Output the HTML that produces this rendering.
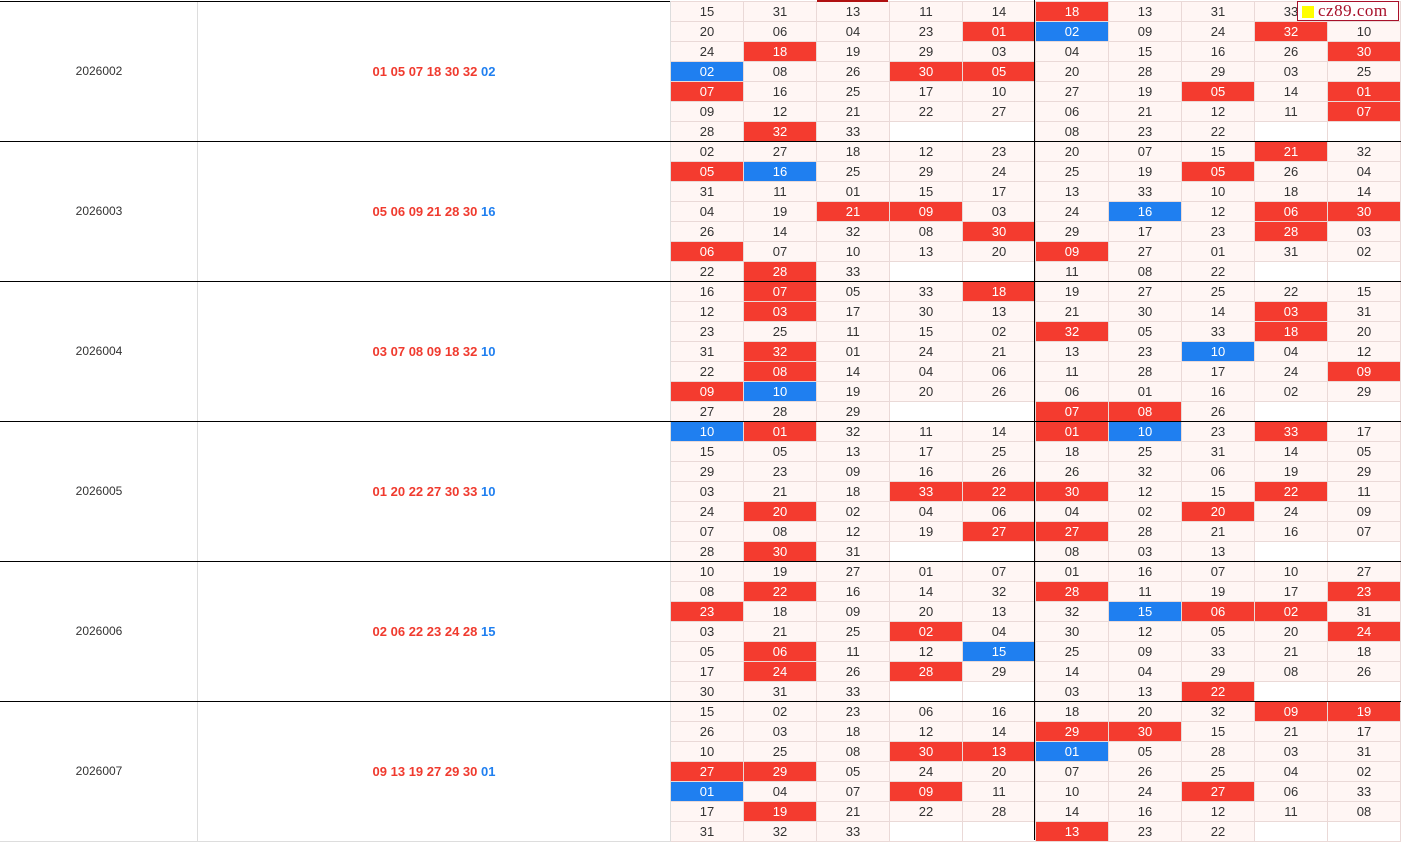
<!DOCTYPE html>
<html><head><meta charset="utf-8"><style>
html,body{margin:0;padding:0;width:1401px;height:840px;overflow:hidden;background:#fff;font-family:"Liberation Sans",Arial,sans-serif;}
table{position:absolute;left:0;top:1px;border-collapse:collapse;table-layout:fixed;width:1400px;}
td{height:19px;padding:0;border:1px solid #ead9d7;background:#fff6f4;text-align:center;font-size:13px;color:#333;line-height:19px;overflow:hidden;white-space:nowrap}
td.i{background:#fff;border-color:#ddd;font-size:12px;border-left-color:#fff}
td.n{background:#fff;border-color:#ddd;font-size:13px;font-weight:bold;color:#f03a2e;}
td.n span{color:#1f7ff0}
td.r{background:#f43b2f;color:#fff}
td.b{background:#1f7ff0;color:#fff}
td.e{background:#fff}
.h{position:absolute;left:0;width:1401px;height:1px;background:#000}
.v{position:absolute;left:1034px;top:0;width:1px;height:840px;background:#000}
#wm{position:absolute;left:1297px;top:1px;width:102px;height:20px;background:#fff;border:1px solid #a8102a;box-sizing:border-box;font-family:"Liberation Serif",serif;font-size:17px;color:#a8102a;line-height:18px;padding-left:20px;letter-spacing:0.5px}
#wm i{position:absolute;left:4px;top:4px;width:12px;height:12px;background:#ffff00}
#top{position:absolute;left:817px;top:0;width:71px;height:2px;background:#b01010}
</style></head><body>
<table>
<colgroup><col style="width:197px"><col style="width:473px"><col span="10" style="width:73px"></colgroup>
<tr><td class="i" rowspan="7">2026002</td><td class="n" rowspan="7">01 05 07 18 30 32 <span>02</span></td><td>15</td><td>31</td><td>13</td><td>11</td><td>14</td><td class="r">18</td><td>13</td><td>31</td><td>33</td><td></td></tr>
<tr><td>20</td><td>06</td><td>04</td><td>23</td><td class="r">01</td><td class="b">02</td><td>09</td><td>24</td><td class="r">32</td><td>10</td></tr>
<tr><td>24</td><td class="r">18</td><td>19</td><td>29</td><td>03</td><td>04</td><td>15</td><td>16</td><td>26</td><td class="r">30</td></tr>
<tr><td class="b">02</td><td>08</td><td>26</td><td class="r">30</td><td class="r">05</td><td>20</td><td>28</td><td>29</td><td>03</td><td>25</td></tr>
<tr><td class="r">07</td><td>16</td><td>25</td><td>17</td><td>10</td><td>27</td><td>19</td><td class="r">05</td><td>14</td><td class="r">01</td></tr>
<tr><td>09</td><td>12</td><td>21</td><td>22</td><td>27</td><td>06</td><td>21</td><td>12</td><td>11</td><td class="r">07</td></tr>
<tr><td>28</td><td class="r">32</td><td>33</td><td class="e"></td><td class="e"></td><td>08</td><td>23</td><td>22</td><td class="e"></td><td class="e"></td></tr>

<tr><td class="i" rowspan="7">2026003</td><td class="n" rowspan="7">05 06 09 21 28 30 <span>16</span></td><td>02</td><td>27</td><td>18</td><td>12</td><td>23</td><td>20</td><td>07</td><td>15</td><td class="r">21</td><td>32</td></tr>
<tr><td class="r">05</td><td class="b">16</td><td>25</td><td>29</td><td>24</td><td>25</td><td>19</td><td class="r">05</td><td>26</td><td>04</td></tr>
<tr><td>31</td><td>11</td><td>01</td><td>15</td><td>17</td><td>13</td><td>33</td><td>10</td><td>18</td><td>14</td></tr>
<tr><td>04</td><td>19</td><td class="r">21</td><td class="r">09</td><td>03</td><td>24</td><td class="b">16</td><td>12</td><td class="r">06</td><td class="r">30</td></tr>
<tr><td>26</td><td>14</td><td>32</td><td>08</td><td class="r">30</td><td>29</td><td>17</td><td>23</td><td class="r">28</td><td>03</td></tr>
<tr><td class="r">06</td><td>07</td><td>10</td><td>13</td><td>20</td><td class="r">09</td><td>27</td><td>01</td><td>31</td><td>02</td></tr>
<tr><td>22</td><td class="r">28</td><td>33</td><td class="e"></td><td class="e"></td><td>11</td><td>08</td><td>22</td><td class="e"></td><td class="e"></td></tr>

<tr><td class="i" rowspan="7">2026004</td><td class="n" rowspan="7">03 07 08 09 18 32 <span>10</span></td><td>16</td><td class="r">07</td><td>05</td><td>33</td><td class="r">18</td><td>19</td><td>27</td><td>25</td><td>22</td><td>15</td></tr>
<tr><td>12</td><td class="r">03</td><td>17</td><td>30</td><td>13</td><td>21</td><td>30</td><td>14</td><td class="r">03</td><td>31</td></tr>
<tr><td>23</td><td>25</td><td>11</td><td>15</td><td>02</td><td class="r">32</td><td>05</td><td>33</td><td class="r">18</td><td>20</td></tr>
<tr><td>31</td><td class="r">32</td><td>01</td><td>24</td><td>21</td><td>13</td><td>23</td><td class="b">10</td><td>04</td><td>12</td></tr>
<tr><td>22</td><td class="r">08</td><td>14</td><td>04</td><td>06</td><td>11</td><td>28</td><td>17</td><td>24</td><td class="r">09</td></tr>
<tr><td class="r">09</td><td class="b">10</td><td>19</td><td>20</td><td>26</td><td>06</td><td>01</td><td>16</td><td>02</td><td>29</td></tr>
<tr><td>27</td><td>28</td><td>29</td><td class="e"></td><td class="e"></td><td class="r">07</td><td class="r">08</td><td>26</td><td class="e"></td><td class="e"></td></tr>

<tr><td class="i" rowspan="7">2026005</td><td class="n" rowspan="7">01 20 22 27 30 33 <span>10</span></td><td class="b">10</td><td class="r">01</td><td>32</td><td>11</td><td>14</td><td class="r">01</td><td class="b">10</td><td>23</td><td class="r">33</td><td>17</td></tr>
<tr><td>15</td><td>05</td><td>13</td><td>17</td><td>25</td><td>18</td><td>25</td><td>31</td><td>14</td><td>05</td></tr>
<tr><td>29</td><td>23</td><td>09</td><td>16</td><td>26</td><td>26</td><td>32</td><td>06</td><td>19</td><td>29</td></tr>
<tr><td>03</td><td>21</td><td>18</td><td class="r">33</td><td class="r">22</td><td class="r">30</td><td>12</td><td>15</td><td class="r">22</td><td>11</td></tr>
<tr><td>24</td><td class="r">20</td><td>02</td><td>04</td><td>06</td><td>04</td><td>02</td><td class="r">20</td><td>24</td><td>09</td></tr>
<tr><td>07</td><td>08</td><td>12</td><td>19</td><td class="r">27</td><td class="r">27</td><td>28</td><td>21</td><td>16</td><td>07</td></tr>
<tr><td>28</td><td class="r">30</td><td>31</td><td class="e"></td><td class="e"></td><td>08</td><td>03</td><td>13</td><td class="e"></td><td class="e"></td></tr>

<tr><td class="i" rowspan="7">2026006</td><td class="n" rowspan="7">02 06 22 23 24 28 <span>15</span></td><td>10</td><td>19</td><td>27</td><td>01</td><td>07</td><td>01</td><td>16</td><td>07</td><td>10</td><td>27</td></tr>
<tr><td>08</td><td class="r">22</td><td>16</td><td>14</td><td>32</td><td class="r">28</td><td>11</td><td>19</td><td>17</td><td class="r">23</td></tr>
<tr><td class="r">23</td><td>18</td><td>09</td><td>20</td><td>13</td><td>32</td><td class="b">15</td><td class="r">06</td><td class="r">02</td><td>31</td></tr>
<tr><td>03</td><td>21</td><td>25</td><td class="r">02</td><td>04</td><td>30</td><td>12</td><td>05</td><td>20</td><td class="r">24</td></tr>
<tr><td>05</td><td class="r">06</td><td>11</td><td>12</td><td class="b">15</td><td>25</td><td>09</td><td>33</td><td>21</td><td>18</td></tr>
<tr><td>17</td><td class="r">24</td><td>26</td><td class="r">28</td><td>29</td><td>14</td><td>04</td><td>29</td><td>08</td><td>26</td></tr>
<tr><td>30</td><td>31</td><td>33</td><td class="e"></td><td class="e"></td><td>03</td><td>13</td><td class="r">22</td><td class="e"></td><td class="e"></td></tr>

<tr><td class="i" rowspan="7">2026007</td><td class="n" rowspan="7">09 13 19 27 29 30 <span>01</span></td><td>15</td><td>02</td><td>23</td><td>06</td><td>16</td><td>18</td><td>20</td><td>32</td><td class="r">09</td><td class="r">19</td></tr>
<tr><td>26</td><td>03</td><td>18</td><td>12</td><td>14</td><td class="r">29</td><td class="r">30</td><td>15</td><td>21</td><td>17</td></tr>
<tr><td>10</td><td>25</td><td>08</td><td class="r">30</td><td class="r">13</td><td class="b">01</td><td>05</td><td>28</td><td>03</td><td>31</td></tr>
<tr><td class="r">27</td><td class="r">29</td><td>05</td><td>24</td><td>20</td><td>07</td><td>26</td><td>25</td><td>04</td><td>02</td></tr>
<tr><td class="b">01</td><td>04</td><td>07</td><td class="r">09</td><td>11</td><td>10</td><td>24</td><td class="r">27</td><td>06</td><td>33</td></tr>
<tr><td>17</td><td class="r">19</td><td>21</td><td>22</td><td>28</td><td>14</td><td>16</td><td>12</td><td>11</td><td>08</td></tr>
<tr><td>31</td><td>32</td><td>33</td><td class="e"></td><td class="e"></td><td class="r">13</td><td>23</td><td>22</td><td class="e"></td><td class="e"></td></tr>
</table>
<div class="h" style="top:1px;width:670px"></div>
<div class="h" style="top:141px"></div>
<div class="h" style="top:281px"></div>
<div class="h" style="top:421px"></div>
<div class="h" style="top:561px"></div>
<div class="h" style="top:701px"></div>
<div class="v"></div>
<div id="top"></div>
<div id="wm"><i></i>cz89.com</div>
</body></html>
